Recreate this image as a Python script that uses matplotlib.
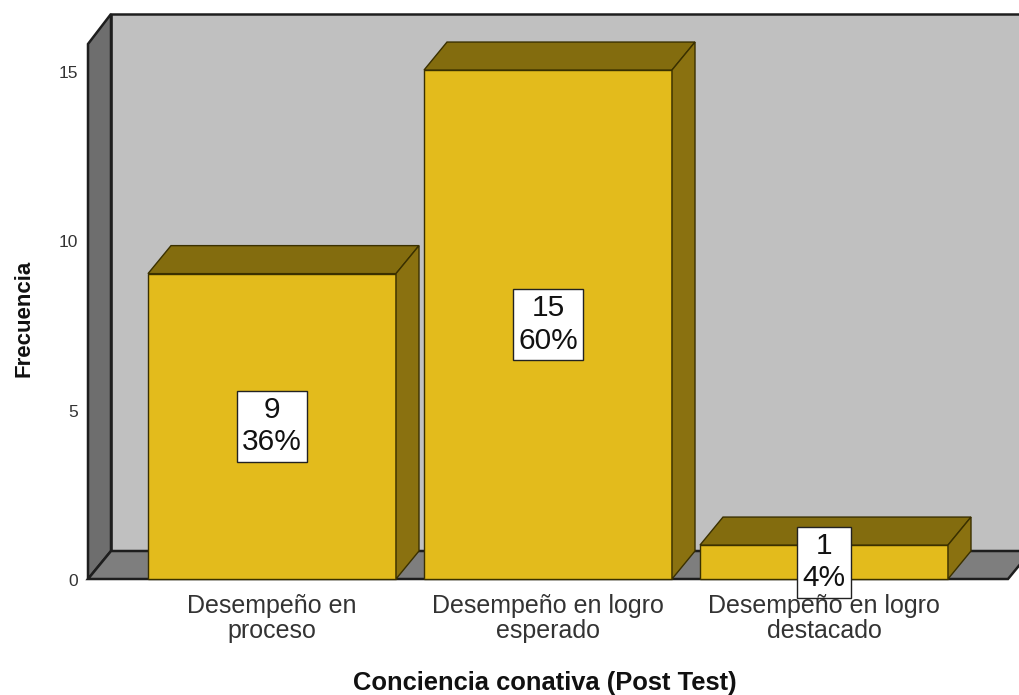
import matplotlib
matplotlib.use("Agg")
import matplotlib.pyplot as plt
from matplotlib.patches import Polygon, Rectangle

categories = ["Desempeño en\nproceso", "Desempeño en logro\nesperado", "Desempeño en logro\ndestacado"]
freq = [9, 15, 1]
pct = ["36%", "60%", "4%"]
yticks = [0, 5, 10, 15]
xlabel = "Conciencia conativa (Post Test)"
ylabel = "Frecuencia"

W, H = 1020, 695
PX_X = 276.0
PX_Y = 33.93
X0 = 272.0
Y0 = 579.0
DX = 23 / PX_X
DY = 28 / PX_Y
BW = 248 / PX_X

plt.rcParams["font.family"] = ["Liberation Sans", "DejaVu Sans"]
fig = plt.figure(figsize=(W / 100, H / 100), dpi=100, facecolor="white")
ax = fig.add_axes([0, 0, 1, 1])
ax.set_xlim(-X0 / PX_X, (W - X0) / PX_X)
ax.set_ylim(-(H - Y0) / PX_Y, Y0 / PX_Y)
ax.axis("off")

xl = (88 - X0) / PX_X
xr = (1008 - X0) / PX_X
ywall = (579 - 14) / PX_Y
yleft = (579 - 44) / PX_Y
edge = "#1e1e1e"

ax.add_patch(Rectangle((xl + DX, DY), xr - xl, ywall - DY, fc="#c0c0c0", ec=edge, lw=1.8, zorder=1))
ax.add_patch(Polygon([(xl, 0), (xl + DX, DY), (xl + DX, ywall), (xl, yleft)], fc="#6e6e6e", ec=edge, lw=1.8, zorder=1))
ax.add_patch(Polygon([(xl, 0), (xr, 0), (xr + DX, DY), (xl + DX, DY)], fc="#7e7e7e", ec=edge, lw=1.8, zorder=1))

for i, (v, p) in enumerate(zip(freq, pct)):
    l, r = i - BW / 2, i + BW / 2
    z = 2 + i
    ax.add_patch(Rectangle((l, 0), BW, v, fc="#e3bb1c", ec="#3a3000", lw=1, zorder=z))
    ax.add_patch(Polygon([(l, v), (r, v), (r + DX, v + DY), (l + DX, v + DY)], fc="#836c0e", ec="#3a3000", lw=1, zorder=z))
    ax.add_patch(Polygon([(r, 0), (r + DX, DY), (r + DX, v + DY), (r, v)], fc="#8a7110", ec="#3a3000", lw=1, zorder=z))
    ax.text(i, v / 2, f"{v}\n{p}", ha="center", va="center", fontsize=21.5, color="#111111",
            linespacing=1.19, zorder=10,
            bbox=dict(boxstyle="square,pad=0.18", fc="white", ec="#222222", lw=1.0))
    ax.text(i, -15 / PX_Y, categories[i], ha="center", va="top", fontsize=18, color="#333333",
            linespacing=1.05, zorder=12)

for t in yticks:
    ax.text(xl - 10 / PX_X, t - 3 / PX_Y, str(t), ha="right", va="center", fontsize=12.5, color="#333333")

ax.text((545 - X0) / PX_X, (Y0 - 683) / PX_Y, xlabel, ha="center", va="center", fontsize=18.4, fontweight="bold", color="#111111")
ax.text((24 - X0) / PX_X, (Y0 - 318) / PX_Y, ylabel, ha="center", va="center", rotation=90, fontsize=16, fontweight="bold", color="#111111")

fig.savefig("out.png", dpi=100, facecolor="white")
